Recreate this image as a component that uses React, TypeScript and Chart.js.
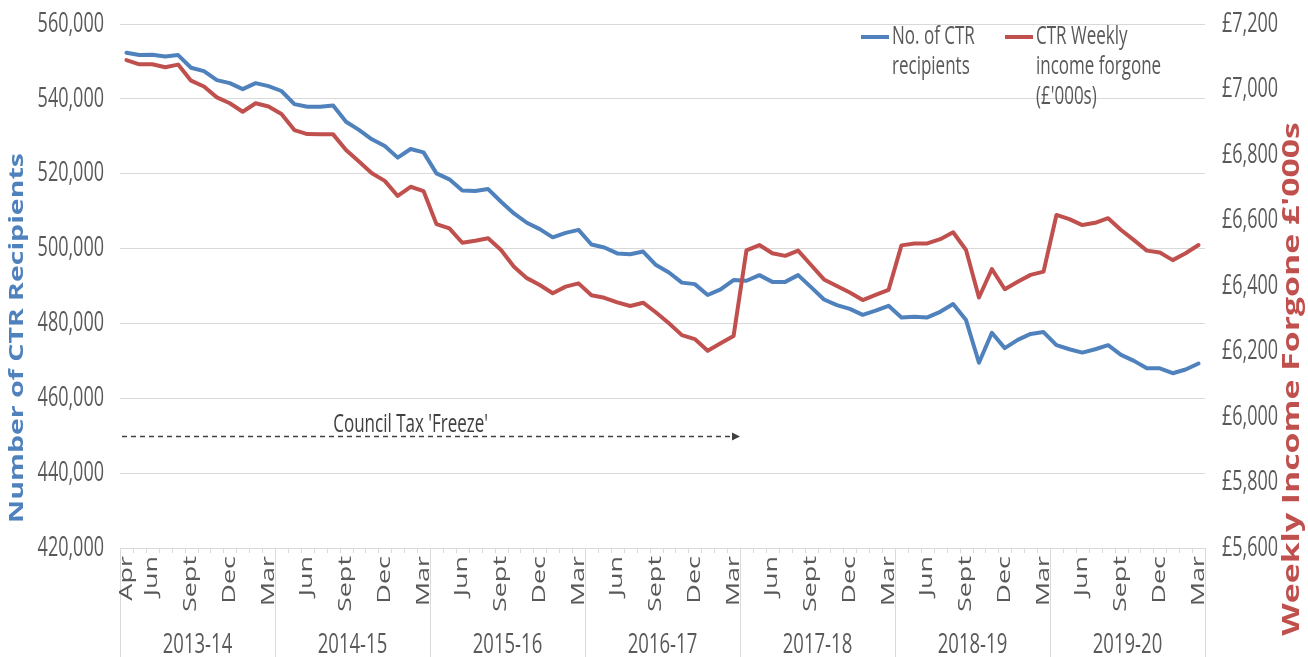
import React, { useEffect, useRef } from 'react';
import { Chart, registerables } from 'chart.js';

Chart.register(...registerables);

// ---------- data ----------
const fiscalYears = ['2013-14', '2014-15', '2015-16', '2016-17', '2017-18', '2018-19', '2019-20'];
const monthNames = ['Apr', 'May', 'Jun', 'Jul', 'Aug', 'Sept', 'Oct', 'Nov', 'Dec', 'Jan', 'Feb', 'Mar'];
const firstYearTickLabels = ['Apr', 'Jun', 'Sept', 'Dec', 'Mar'];
const laterYearTickLabels = ['Jun', 'Sept', 'Dec', 'Mar'];

const recipients = [
  552300, 551700, 551800, 551300, 551700, 548300, 547400, 545000, 544200, 542600, 544200, 543400,
  542100, 538600, 537900, 537900, 538200, 533900, 531700, 529200, 527400, 524300, 526600, 525700,
  520100, 518500, 515500, 515400, 515900, 512500, 509400, 506900, 505200, 503000, 504200, 505000,
  501100, 500300, 498700, 498500, 499200, 495600, 493600, 490900, 490500, 487600, 489100, 491600,
  491400, 492900, 491100, 491100, 492900, 489700, 486400, 484900, 483900, 482300, 483400, 484700,
  481600, 481800, 481600, 483100, 485200, 480900, 469500, 477500, 473400, 475600, 477200, 477700,
  474200, 473100, 472200, 473100, 474200, 471600, 470000, 468000, 468000, 466700, 467700, 469300,
];

const incomeForgone = [
  7090, 7077, 7077, 7068, 7076, 7027, 7009, 6976, 6958, 6932, 6958, 6948,
  6925, 6876, 6864, 6863, 6863, 6815, 6780, 6744, 6721, 6675, 6703, 6690,
  6589, 6576, 6532, 6538, 6546, 6510, 6459, 6424, 6403, 6378, 6398, 6408,
  6372, 6364, 6350, 6339, 6349, 6319, 6286, 6250, 6238, 6202, 6225, 6247,
  6509, 6525, 6500, 6492, 6508, 6464, 6420, 6400, 6380, 6357, 6373, 6388,
  6524, 6530, 6530, 6543, 6564, 6510, 6365, 6452, 6390, 6413, 6434, 6444,
  6617, 6604, 6586, 6593, 6607, 6571, 6540, 6508, 6502, 6479, 6500, 6525,
];

const seriesNames = [['No. of CTR', 'recipients'], ['CTR Weekly', 'income forgone', "(£'000s)"]];
const leftAxisTitle = 'Number of CTR Recipients';
const rightAxisTitle = "Weekly Income Forgone £'000s";
const annotationText = "Council Tax 'Freeze'";
const freezeEndIndex = 47.5; // end of 2016-17
const freezeLevel = 450000;

const categories = fiscalYears.flatMap((fy) => monthNames.map((m) => `${m} ${fy}`));

// ---------- style ----------
const FONT = '"Open Sans", sans-serif';
const S = 1.5; // the reference is stretched vertically
const BLUE = '#4f81bd';
const RED = '#c0504d';
const GREY_TEXT = '#595959';
const GRID = '#d9d9d9';

function tickLabelFor(i: number) {
  const m = monthNames[i % 12];
  const list = Math.floor(i / 12) === 0 ? firstYearTickLabels : laterYearTickLabels;
  return list.includes(m) ? m : '';
}

function drawText(
  ctx: CanvasRenderingContext2D,
  text: string,
  x: number,
  y: number,
  o: { size: number; weight?: string; color: string; align: CanvasTextAlign; baseline?: CanvasTextBaseline; rotate?: boolean }
) {
  ctx.save();
  ctx.translate(x, y);
  if (o.rotate) {
    ctx.rotate(-Math.PI / 2);
    ctx.scale(S, 1);
  } else {
    ctx.scale(1, S);
  }
  ctx.font = `${o.weight || 'normal'} ${o.size}px ${FONT}`;
  ctx.fillStyle = o.color;
  ctx.textAlign = o.align;
  ctx.textBaseline = o.baseline || 'middle';
  ctx.fillText(text, 0, 0);
  ctx.restore();
}

const decorPlugin = {
  id: 'decor',
  afterDraw(chart: any) {
    const ctx: CanvasRenderingContext2D = chart.ctx;
    const xs = chart.scales.x;
    const ys = chart.scales.y;
    const y1s = chart.scales.y1;
    const area = chart.chartArea;
    const H = chart.height;

    // left tick labels
    ys.ticks.forEach((t: any) => {
      drawText(ctx, t.value.toLocaleString('en-US'), area.left - 16, ys.getPixelForValue(t.value), {
        size: 18, color: GREY_TEXT, align: 'right',
      });
    });
    // right tick labels
    y1s.ticks.forEach((t: any) => {
      drawText(ctx, '£' + t.value.toLocaleString('en-US'), area.right + 17, y1s.getPixelForValue(t.value), {
        size: 18, color: GREY_TEXT, align: 'left',
      });
    });

    // category tick marks and year dividers
    ctx.save();
    ctx.strokeStyle = GRID;
    ctx.lineWidth = 1;
    for (let i = 0; i <= categories.length; i++) {
      const px = Math.round(xs.getPixelForValue(i - 0.5)) + 0.5;
      ctx.beginPath();
      ctx.moveTo(px, area.bottom);
      ctx.lineTo(px, i % 12 === 0 ? H : area.bottom + 5);
      ctx.stroke();
    }
    ctx.restore();

    // month labels
    categories.forEach((_, i) => {
      const lab = tickLabelFor(i);
      if (!lab) return;
      drawText(ctx, lab, xs.getPixelForValue(i), area.bottom + 8, {
        size: 18, color: GREY_TEXT, align: 'right', rotate: true,
      });
    });
    // year labels
    fiscalYears.forEach((fy, k) => {
      drawText(ctx, fy, xs.getPixelForValue(k * 12 + 5.5), 645, { size: 18.5, color: GREY_TEXT, align: 'center' });
    });

    // axis titles
    drawText(ctx, leftAxisTitle, 18, 338, { size: 19, weight: 'bold', color: BLUE, align: 'center', rotate: true });
    drawText(ctx, rightAxisTitle, 1293, 379, { size: 22.5, weight: 'bold', color: RED, align: 'center', rotate: true });

    // legend
    const legendX = [861, 1005];
    chart.data.datasets.forEach((ds: any, k: number) => {
      ctx.save();
      ctx.strokeStyle = ds.borderColor;
      ctx.lineWidth = 4;
      ctx.beginPath();
      ctx.moveTo(legendX[k], 37);
      ctx.lineTo(legendX[k] + 28, 37);
      ctx.stroke();
      ctx.restore();
      seriesNames[k].forEach((line, j) => {
        drawText(ctx, line, legendX[k] + 31, 37 + j * 30, { size: 17, color: GREY_TEXT, align: 'left' });
      });
    });

    // annotation: Council Tax 'Freeze'
    const ay = Math.round(ys.getPixelForValue(freezeLevel)) + 0.5;
    const ax0 = xs.getPixelForValue(-0.5) + 2;
    const ax1 = xs.getPixelForValue(freezeEndIndex);
    ctx.save();
    ctx.strokeStyle = '#404040';
    ctx.fillStyle = '#404040';
    ctx.lineWidth = 1.3;
    ctx.setLineDash([5, 4]);
    ctx.beginPath();
    ctx.moveTo(ax0, ay);
    ctx.lineTo(ax1 - 7, ay);
    ctx.stroke();
    ctx.setLineDash([]);
    ctx.beginPath();
    ctx.moveTo(ax1, ay);
    ctx.lineTo(ax1 - 8, ay - 4);
    ctx.lineTo(ax1 - 8, ay + 4);
    ctx.closePath();
    ctx.fill();
    ctx.restore();
    drawText(ctx, annotationText, xs.getPixelForValue(22), ay - 12, { size: 17, color: '#404040', align: 'center' });
  },
};

export default function App() {
  const ref = useRef<HTMLCanvasElement>(null);

  useEffect(() => {
    document.body.style.margin = '0';
    const chart = new Chart(ref.current as HTMLCanvasElement, {
      type: 'line',
      data: {
        labels: categories,
        datasets: [
          {
            label: seriesNames[0].join(' '),
            data: recipients,
            borderColor: BLUE,
            backgroundColor: BLUE,
            yAxisID: 'y',
            order: 1,
          },
          {
            label: seriesNames[1].join(' '),
            data: incomeForgone,
            borderColor: RED,
            backgroundColor: RED,
            yAxisID: 'y1',
            order: 0,
          },
        ],
      },
      options: {
        responsive: false,
        animation: false,
        devicePixelRatio: 1,
        layout: { padding: { top: 24, left: 0, right: 0, bottom: 0 } },
        plugins: { legend: { display: false }, tooltip: { enabled: false } },
        elements: {
          point: { radius: 0, hoverRadius: 0 },
          line: { tension: 0, borderWidth: 4, borderJoinStyle: 'round', borderCapStyle: 'round' },
        },
        scales: {
          x: {
            type: 'category',
            offset: true,
            grid: { display: false },
            border: { display: false },
            ticks: { display: false },
            afterFit: (s: any) => { s.height = 109; },
          },
          y: {
            position: 'left',
            min: 420000,
            max: 560000,
            ticks: { stepSize: 20000, display: false },
            grid: { color: GRID, lineWidth: 1, drawTicks: false },
            border: { display: false },
            afterFit: (s: any) => { s.width = 120; },
          },
          y1: {
            position: 'right',
            min: 5600,
            max: 7200,
            ticks: { stepSize: 200, display: false },
            grid: { display: false },
            border: { display: false },
            afterFit: (s: any) => { s.width = 103; },
          },
        },
      } as any,
      plugins: [decorPlugin],
    });
    return () => chart.destroy();
  }, []);

  return (
    <div style={{ position: 'absolute', left: 0, top: 0, width: 1308, height: 657, background: '#ffffff' }}>
      <canvas ref={ref} width={1308} height={657} style={{ display: 'block' }} />
    </div>
  );
}
